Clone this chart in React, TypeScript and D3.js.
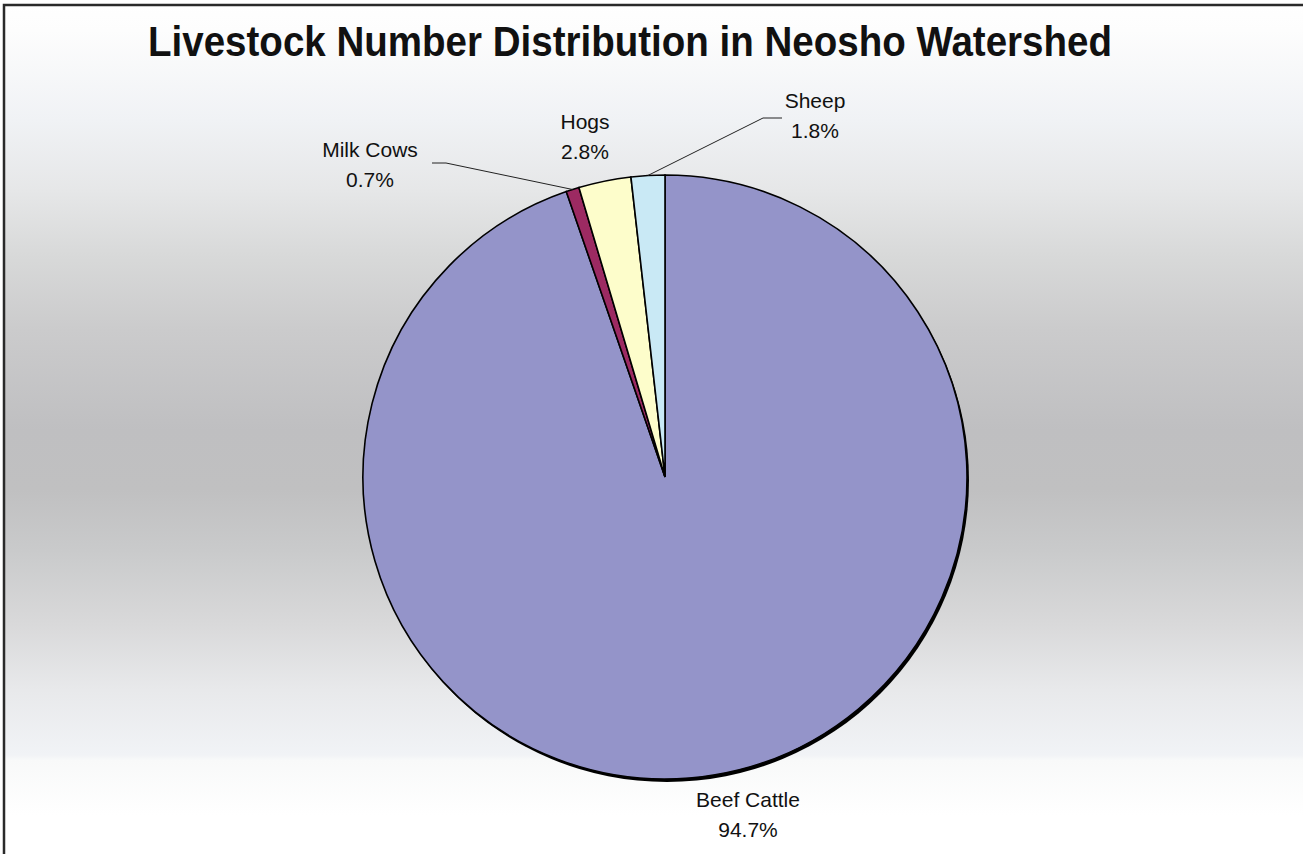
import React from "react";
import * as d3 from "d3";

const categories = ["Beef Cattle", "Milk Cows", "Hogs", "Sheep"];
const percents = [94.7, 0.7, 2.8, 1.8];
const sliceColors = ["#9494c9", "#9c2a62", "#fdfdcb", "#c9e9f5"];
const titleText = "Livestock Number Distribution in Neosho Watershed";

const W = 1303;
const H = 854;
const cx = 665;
const cy = 477;
const R = 302;

// label layout: [x center, first baseline], leader bend points
const labelLayout = [
  { x: 748, y: 807, leader: null as null | number[][] },
  { x: 370, y: 157, leader: [[432, 163], [446, 163]] },
  { x: 585, y: 129, leader: null },
  { x: 815, y: 108, leader: [[782, 118], [763, 118]] },
];

const bgStops: [number, string][] = [
  [0, "#ffffff"],
  [30, "#fdfdfd"],
  [120, "#f0f2f5"],
  [190, "#e6e7e8"],
  [255, "#d8d9d9"],
  [330, "#cbcbcc"],
  [430, "#bfbfc1"],
  [490, "#c0c0c1"],
  [550, "#c9cacb"],
  [625, "#d9d9da"],
  [690, "#e8e9eb"],
  [755, "#f1f3f6"],
  [760, "#f8f9f9"],
  [815, "#ffffff"],
];

export default function App() {
  const pie = d3.pie<number>().sort(null).value((d) => d);
  const arcs = pie(percents);
  const arcGen = d3.arc<d3.PieArcDatum<number>>().innerRadius(0).outerRadius(R);
  const font = "'Liberation Sans', Arial, sans-serif";

  return (
    <svg
      width={W}
      height={H}
      style={{ position: "absolute", left: 0, top: 0, display: "block" }}
      xmlns="http://www.w3.org/2000/svg"
    >
      <defs>
        <linearGradient id="bg" x1="0" y1="0" x2="0" y2={H} gradientUnits="userSpaceOnUse">
          {bgStops.map(([o, c], i) => (
            <stop key={i} offset={o / H} stopColor={c} />
          ))}
        </linearGradient>
      </defs>
      <rect x={0} y={0} width={W} height={H} fill="#ffffff" />
      <rect x={4} y={5} width={W + 10} height={H + 10} fill="url(#bg)" stroke="#2a2a2a" strokeWidth={2.5} />
      <text
        x={630}
        y={56}
        textAnchor="middle"
        fontFamily={font}
        fontWeight="bold"
        fontSize={42}
        textLength={964}
        lengthAdjust="spacingAndGlyphs"
        fill="#111"
      >
        {titleText}
      </text>
      <g transform={`translate(${cx},${cy})`}>
        <circle cx={2} cy={3} r={R} fill="#000" />
        {arcs.map((a, i) => (
          <path
            key={i}
            d={arcGen(a) || ""}
            fill={sliceColors[i]}
            stroke="#000"
            strokeWidth={1.6}
            strokeLinejoin="miter"
          />
        ))}
      </g>
      {arcs.map((a, i) => {
        const lay = labelLayout[i];
        let leader = null;
        if (lay.leader) {
          const mid = (a.startAngle + a.endAngle) / 2;
          const sx = cx + R * Math.sin(mid);
          const sy = cy - R * Math.cos(mid);
          const pts = [[sx, sy], ...lay.leader.slice().reverse()];
          leader = (
            <path
              d={d3.line()(pts as [number, number][]) || ""}
              fill="none"
              stroke="#222"
              strokeWidth={1}
            />
          );
        }
        return (
          <g key={i}>
            {leader}
            <text
              x={lay.x}
              y={lay.y}
              textAnchor="middle"
              fontFamily={font}
              fontSize={21}
              fill="#111"
            >
              {categories[i]}
            </text>
            <text
              x={lay.x}
              y={lay.y + 30}
              textAnchor="middle"
              fontFamily={font}
              fontSize={21}
              fill="#111"
            >
              {percents[i].toFixed(1) + "%"}
            </text>
          </g>
        );
      })}
    </svg>
  );
}
